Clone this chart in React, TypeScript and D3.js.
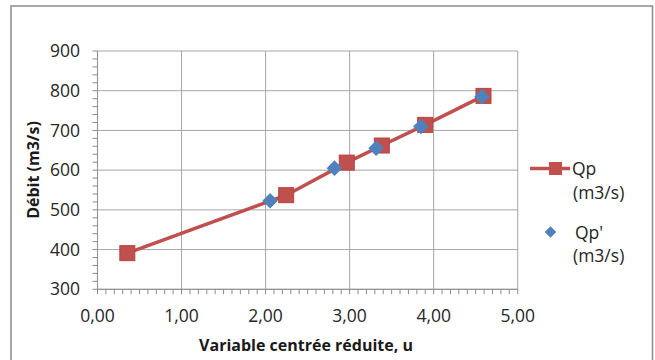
import React from "react";
import * as d3 from "d3";

const qpU = [0.355, 2.245, 2.966, 3.383, 3.899, 4.593];
const qpVal = [391, 537, 619, 662, 714, 787];
const qp2U = [2.054, 2.82, 3.315, 3.848, 4.574];
const qp2Val = [523, 605, 655, 710, 785];
const xTicks = [0, 1, 2, 3, 4, 5];
const yTicks = [300, 400, 500, 600, 700, 800, 900];
const seriesNames = ["Qp", "Qp'"];
const unitLabel = "(m3/s)";
const xTitle = "Variable centrée réduite, u";
const yTitle = "Débit (m3/s)";

const W = 655, H = 360;
const L = 97.5, R = 517.7, T = 51, B = 289.3;
const RED = "#C0504D", BLUE = "#4F81BD";
const FONT = "'Open Sans', sans-serif";

export default function App() {
  const x = d3.scaleLinear().domain([0, 5]).range([L, R]);
  const y = d3.scaleLinear().domain([300, 900]).range([B, T]);
  const line = d3.line<number>().x((_, i) => x(qpU[i])).y((d) => y(d));
  const xMinor = d3.range(0, 50.5, 1).map((i) => i / 10);
  const yMinor = d3.range(300, 901, 20);
  const fmt = (v: number) => v.toFixed(2).replace(".", ",");
  const diamond = (cx: number, cy: number, r: number) =>
    `M${cx},${cy - r}L${cx + r},${cy}L${cx},${cy + r}L${cx - r},${cy}Z`;
  const sq = 15;
  return (
    <svg width={W} height={H} style={{ position: "absolute", left: 0, top: 0, background: "#fff" }} fontFamily={FONT}>
      <rect x={11} y={6} width={641.5} height={H} fill="#fff" stroke="#8c8c8c" strokeWidth={1.5} />
      {xTicks.map((t) => (
        <line key={"gx" + t} x1={x(t)} x2={x(t)} y1={T} y2={B} stroke="#a6a6a6" strokeWidth={1} />
      ))}
      {yTicks.map((t) => (
        <line key={"gy" + t} x1={L} x2={R} y1={y(t)} y2={y(t)} stroke="#a6a6a6" strokeWidth={1} />
      ))}
      {xMinor.map((t, i) => (
        <line key={"mx" + i} x1={x(t)} x2={x(t)} y1={B} y2={B + 5} stroke="#8c8c8c" strokeWidth={1} />
      ))}
      {yMinor.map((t) => (
        <line key={"my" + t} x1={L - 5} x2={L} y1={y(t)} y2={y(t)} stroke="#8c8c8c" strokeWidth={1} />
      ))}
      <line x1={L} x2={L} y1={T} y2={B} stroke="#8c8c8c" strokeWidth={1} />
      <line x1={L} x2={R} y1={B} y2={B} stroke="#8c8c8c" strokeWidth={1} />
      {yTicks.map((t) => (
        <text key={"ty" + t} x={80} y={y(t)} dy="0.35em" textAnchor="end" fontSize={17.5} fill="#262626">
          {t}
        </text>
      ))}
      {xTicks.map((t) => (
        <text key={"tx" + t} x={x(t)} y={316} dy="0.35em" textAnchor="middle" fontSize={17.5} fill="#262626">
          {fmt(t)}
        </text>
      ))}
      <text x={306} y={345} dy="0.35em" textAnchor="middle" fontSize={16} fontWeight="bold" fill="#1a1a1a">
        {xTitle}
      </text>
      <text transform={`translate(33,170) rotate(-90)`} dy="0.35em" textAnchor="middle" fontSize={16} fontWeight="bold" fill="#1a1a1a">
        {yTitle}
      </text>
      <path d={line(qpVal) || ""} fill="none" stroke={RED} strokeWidth={3.5} />
      {qpVal.map((v, i) => (
        <rect key={"s" + i} x={x(qpU[i]) - sq / 2} y={y(v) - sq / 2} width={sq} height={sq} fill={RED} stroke="#b9413e" strokeWidth={1} />
      ))}
      {qp2Val.map((v, i) => (
        <path key={"d" + i} d={diamond(x(qp2U[i]), y(v), 7.8)} fill={BLUE} />
      ))}
      <line x1={530} x2={570} y1={168.5} y2={168.5} stroke={RED} strokeWidth={3.5} />
      <rect x={555.5 - 6.5} y={168.5 - 6.5} width={13} height={13} fill={RED} />
      <text x={572} y={169} dy="0.35em" fontSize={17.5} fill="#262626">{seriesNames[0]}</text>
      <text x={573} y={193} dy="0.35em" fontSize={17.5} fill="#262626">{unitLabel}</text>
      <path d={diamond(550.5, 232, 5.8)} fill={BLUE} />
      <text x={575} y={233} dy="0.35em" fontSize={17.5} fill="#262626">{seriesNames[1]}</text>
      <text x={573} y={256} dy="0.35em" fontSize={17.5} fill="#262626">{unitLabel}</text>
    </svg>
  );
}
